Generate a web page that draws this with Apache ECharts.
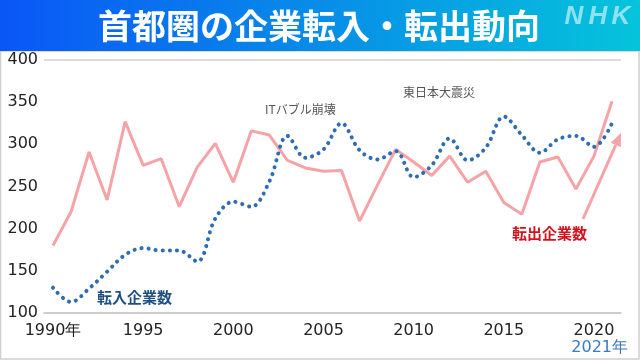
<!DOCTYPE html>
<html>
<head>
<meta charset="utf-8">
<script src="https://cdn.jsdelivr.net/npm/echarts@6/dist/echarts.min.js"></script>
<style>
html,body{margin:0;padding:0;background:#fff;}
#c{width:640px;height:360px;}
</style>
</head>
<body>
<div id="c"></div>
<script>
const years = ['1990','1991','1992','1993','1994','1995','1996','1997','1998','1999','2000','2001','2002','2003','2004','2005','2006','2007','2008','2009','2010','2011','2012','2013','2014','2015','2016','2017','2018','2019','2020','2021'];
const tenshutsu = [180,220,291,234,327,275,283,226,273,301,255,316,311,281,272,268,269,209,252,294,279,263,286,255,268,231,217,279,285,247,286,351];
const tennyu = [130,113,129,149,169,177,174,174,161,212,232,226,256,310,284,294,325,293,282,292,261,275,307,281,296,333,311,290,306,310,297,325];
const yTicks = {min:100, max:400, interval:50};

const chart = echarts.init(document.getElementById('c'), null, {renderer:'canvas'});
const jp = '"Noto Sans CJK JP", sans-serif';
const num = '"DejaVu Sans", sans-serif';

// arrow geometry (annotation)
const tip = [621,133], tail = [583,219];
const dx = tip[0]-tail[0], dy = tip[1]-tail[1], L = Math.hypot(dx,dy);
const ux = dx/L, uy = dy/L, px = -uy, py = ux;
const hl = 13, hw = 5.5;
const bc = [tip[0]-hl*ux, tip[1]-hl*uy];

chart.setOption({
  animation:false,
  grid:{left:44, right:19, top:60, bottom:47},
  xAxis:{
    type:'category',
    data:years,
    boundaryGap:true,
    axisTick:{show:false},
    axisLine:{lineStyle:{color:'#bdbdbd', width:1.5}},
    axisLabel:{
      interval:(i,v)=> (+v)%5===0 && (+v)<2021,
      formatter:(v)=> v==='1990' ? '1990年' : v,
      color:'#222', fontFamily:num, fontSize:16, margin:10
    }
  },
  yAxis:{
    type:'value',
    min:yTicks.min, max:yTicks.max, interval:yTicks.interval,
    axisLine:{show:false}, axisTick:{show:false},
    axisLabel:{color:'#222', fontFamily:num, fontSize:16, margin:6},
    splitLine:{show:true, lineStyle:{width:2, color:['rgba(0,0,0,0)','rgba(0,0,0,0)','rgba(0,0,0,0)','rgba(0,0,0,0)','rgba(0,0,0,0)','rgba(0,0,0,0)','#dcdcdc']}}
  },
  series:[
    {
      name:'転出企業数', type:'line', data:tenshutsu,
      symbol:'none', lineStyle:{color:'#f5a3a7', width:3}, z:2
    },
    {
      name:'転入企業数', type:'line', data:tennyu,
      symbol:'none', smooth:0.35,
      lineStyle:{color:'#2e6db4', width:4, type:[0.1,7], cap:'round'}, z:3
    }
  ],
  graphic:[
    {type:'rect', shape:{x:0, y:0, width:640, height:51}, z:10,
      style:{fill:new echarts.graphic.LinearGradient(0,0,1,0,[{offset:0,color:'#0a56f6'},{offset:1,color:'#05c4da'}])}},
    {type:'text', x:319, y:26, z:11,
      style:{text:'首都圏の企業転入・転出動向', fill:'#fff', font:'bold 34px '+jp, textAlign:'center', textVerticalAlign:'middle'}},
    {type:'text', x:574, y:17, z:11, style:{text:'N', fill:'#8fe2f1', font:'italic bold 26px "Liberation Sans", sans-serif', textAlign:'center', textVerticalAlign:'middle'}},
    {type:'text', x:598, y:17, z:11, style:{text:'H', fill:'#8fe2f1', font:'italic bold 26px "Liberation Sans", sans-serif', textAlign:'center', textVerticalAlign:'middle'}},
    {type:'text', x:621, y:17, z:11, style:{text:'K', fill:'#8fe2f1', font:'italic bold 26px "Liberation Sans", sans-serif', textAlign:'center', textVerticalAlign:'middle'}},
    {type:'rect', shape:{x:0.5, y:51, width:638.5, height:308}, z:1, silent:true,
      style:{fill:'none', stroke:'#cfcfcf', lineWidth:1.5}},
    {type:'text', x:265, y:109, z:5, style:{text:'ITバブル崩壊', fill:'#555', font:'12px '+jp, textVerticalAlign:'middle'}},
    {type:'text', x:403, y:92, z:5, style:{text:'東日本大震災', fill:'#555', font:'12px '+jp, textVerticalAlign:'middle'}},
    {type:'text', x:97, y:297, z:5, style:{text:'転入企業数', fill:'#1f4f82', font:'bold 15px '+jp, textVerticalAlign:'middle'}},
    {type:'text', x:512, y:233, z:5, style:{text:'転出企業数', fill:'#d3121d', font:'bold 15px '+jp, textVerticalAlign:'middle'}},
    {type:'text', x:628, y:348, z:5, style:{text:'2021年', fill:'#3a7bc3', font:'16px '+num, textAlign:'right', textVerticalAlign:'middle'}},
    {type:'polyline', z:4, shape:{points:[tail, bc]}, style:{stroke:'#f5a3a7', lineWidth:3, fill:'none'}},
    {type:'polygon', z:4, shape:{points:[tip,[bc[0]+hw*px, bc[1]+hw*py],[bc[0]-hw*px, bc[1]-hw*py]]}, style:{fill:'#f5a3a7'}}
  ]
});
</script>
</body>
</html>
